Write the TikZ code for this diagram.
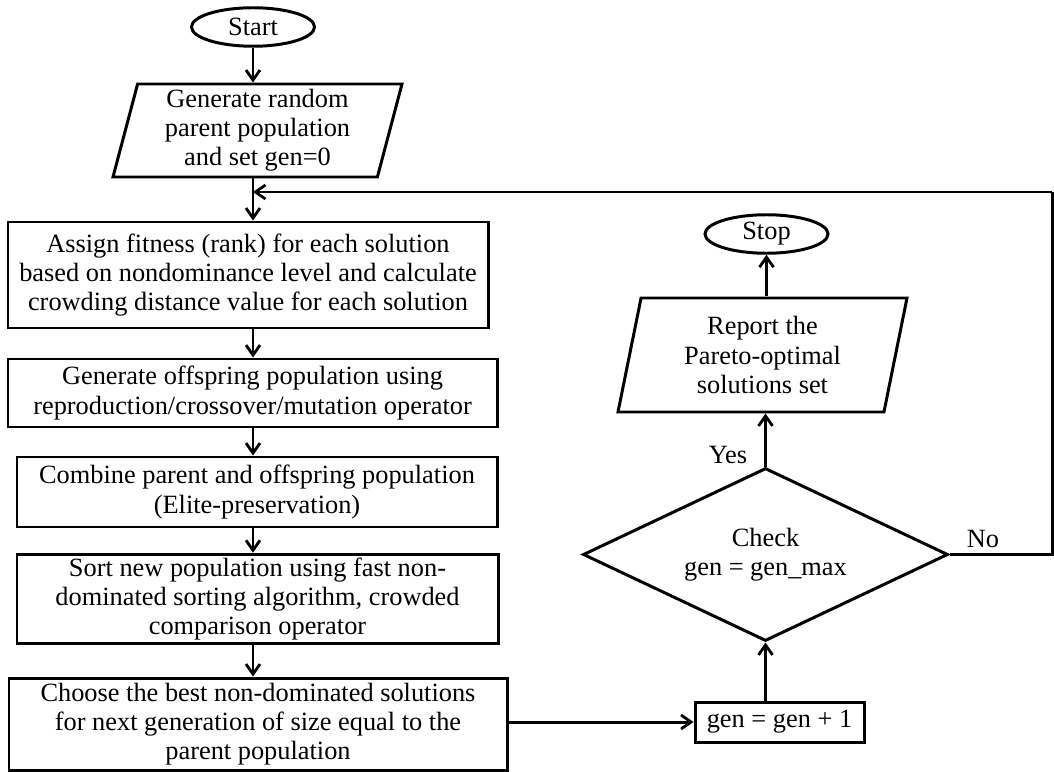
\documentclass[tikz,border=0pt]{standalone}
\usepackage{fontspec}
\setmainfont{Liberation Serif}
\usepackage{tikz}
\usetikzlibrary{shapes.geometric, arrows.meta, positioning, calc}
\newcommand{\flowfont}{\fontsize{15}{16.6}\selectfont}
\tikzset{
    term_ellipse/.style={
        ellipse, draw=black, line width=1.7pt,
        minimum width=2.46cm, minimum height=0.77cm, inner sep=1pt,
        align=center, font=\flowfont
    },
    io_para/.style={
        trapezium, trapezium left angle=74, trapezium right angle=106,
        trapezium stretches body, draw=black, line width=1.7pt,
        minimum width=5.78cm, minimum height=2.05cm, inner sep=1pt,
        align=center, font=\flowfont
    },
    proc_box/.style={
        rectangle, draw=black, line width=1.7pt, inner sep=2pt,
        align=center, font=\flowfont
    },
    decision_diam/.style={
        diamond, draw=black, line width=1.7pt, aspect=2.1,
        minimum width=7.3cm, minimum height=3.46cm, inner sep=1pt,
        align=center, font=\flowfont
    },
    flow_arrow/.style={
        -{Straight Barb[length=2mm, width=2.8mm, line width=1.6pt]}, line width=1.7pt, draw=black
    },
    flow_line/.style={
        line width=1.7pt, draw=black
    },
    lbl/.style={
        font=\flowfont, inner sep=1pt
    }
}

\begin{document}
\begin{tikzpicture}
\useasboundingbox (0, 0) rectangle (21.08, -15.42);

% left column
\node[term_ellipse] (start) at (5.06, -0.54) {Start};
\node[io_para, minimum height=1.86cm] (init) at (5.15, -2.61) {Generate random\\parent population\\and set gen=0};
\coordinate (merge) at (5.06, -3.84);
\node[proc_box, minimum width=9.6cm, minimum height=2.12cm] (assign) at (4.96, -5.5) {Assign fitness (rank) for each solution\\based on nondominance level and calculate\\crowding distance value for each solution};
\node[proc_box, minimum width=9.78cm, minimum height=1.36cm] (offspring) at (5.05, -7.86) {Generate offspring population using\\reproduction/crossover/mutation operator};
\node[proc_box, minimum width=9.6cm, minimum height=1.4cm] (combine) at (5.14, -9.84) {Combine parent and offspring population\\(Elite-preservation)};
\node[proc_box, minimum width=9.62cm, minimum height=1.68cm] (sort) at (5.15, -11.98) {Sort new population using fast non-\\dominated sorting algorithm, crowded\\comparison operator};
\node[proc_box, minimum width=9.96cm, minimum height=1.84cm] (choose) at (5.16, -14.48) {Choose the best non-dominated solutions\\for next generation of size equal to the\\parent population};

% right column
\node[term_ellipse] (stop) at (15.33, -4.68) {Stop};
\node[io_para, minimum height=2.28cm] (report) at (15.25, -7.1) {Report the\\Pareto-optimal\\solutions set};
\node[decision_diam] (check) at (15.31, -11.09) {Check\\gen = gen\_max};
\node[proc_box, minimum width=3.38cm, minimum height=0.8cm] (gen) at (15.59, -14.44) {gen = gen + 1};
\coordinate (corner_low) at (21.04, -11.09);
\coordinate (corner_high) at (21.04, -3.84);

\node[lbl] (yes) at (14.56, -9.1) {Yes};
\node[lbl] (no) at (19.66, -10.78) {No};

% connectors
\draw[flow_arrow] (start) -- (start |- init.north);
\draw[flow_line] (init.south -| merge) -- (merge);
\draw[flow_arrow] (merge) -- (assign.north -| merge);
\draw[flow_arrow] (assign.south -| merge) -- (offspring.north -| merge);
\draw[flow_arrow] (offspring.south -| merge) -- (combine.north -| merge);
\draw[flow_arrow] (combine.south -| merge) -- (sort.north -| merge);
\draw[flow_arrow] (sort.south -| merge) -- (choose.north -| merge);
\draw[flow_arrow] (choose.east |- gen) -- (gen.west);
\draw[flow_arrow] (gen.north -| check) -- (check.south);
\draw[flow_arrow] (check.north) -- (report.south -| check);
\draw[flow_arrow] (report.north -| stop) -- (stop.south);
\draw[flow_line] (check.east) -- (corner_low) -- (corner_high);
\draw[flow_arrow] (corner_high) -- (merge);
\end{tikzpicture}
\end{document}
